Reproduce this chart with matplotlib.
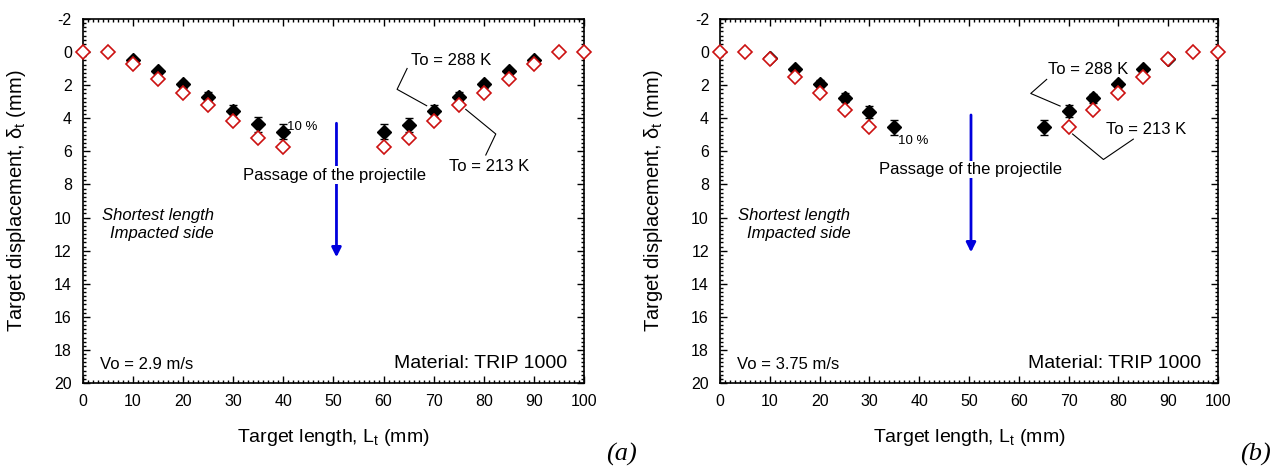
import matplotlib
matplotlib.use('Agg')
import matplotlib.pyplot as plt
from matplotlib.ticker import MultipleLocator

plt.rcParams['font.family'] = ['Liberation Sans', 'DejaVu Sans']
plt.rcParams['mathtext.fontset'] = 'custom'
plt.rcParams['mathtext.rm'] = 'Liberation Sans'
plt.rcParams['mathtext.it'] = 'Liberation Sans:italic'
plt.rcParams['axes.unicode_minus'] = False

# panel (a): Vo = 2.9 m/s
a_x_288 = [10, 15, 20, 25, 30, 35, 40, 60, 65, 70, 75, 80, 85, 90]
a_y_288 = [0.5, 1.15, 1.95, 2.7, 3.57, 4.37, 4.8, 4.8, 4.4, 3.57, 2.7, 1.95, 1.15, 0.5]
a_x_213 = [0, 5, 10, 15, 20, 25, 30, 35, 40, 60, 65, 70, 75, 80, 85, 90, 95, 100]
a_y_213 = [0, 0, 0.72, 1.63, 2.46, 3.2, 4.17, 5.2, 5.72, 5.72, 5.22, 4.17, 3.2, 2.46, 1.62, 0.72, 0, 0]

# panel (b): Vo = 3.75 m/s
b_x_288 = [10, 15, 20, 25, 30, 35, 65, 70, 75, 80, 85, 90]
b_y_288 = [0.33, 1.03, 1.9, 2.76, 3.6, 4.55, 4.55, 3.57, 2.8, 1.93, 1.03, 0.4]
b_x_213 = [0, 5, 10, 15, 20, 25, 30, 70, 75, 80, 85, 90, 95, 100]
b_y_213 = [0, 0, 0.44, 1.49, 2.5, 3.5, 4.5, 4.5, 3.5, 2.5, 1.49, 0.44, 0, 0]

err_frac = 0.10

panels = [
	dict(rect=[0.0645, 0.1781, 0.3896, 0.7811], x288=a_x_288, y288=a_y_288, x213=a_x_213, y213=a_y_213,
		vo='Vo = 2.9 m/s', tag='(a)', tag_x=0.483,
		pct=(40.8, 4.5), arrow=(50.6, 4.3, 12.4), passage=(50.3, 7.43),
		t288=(73.5, 0.52), l288=[(64.7, 0.99), (62.7, 2.25), (68.6, 3.24)],
		t213=(81.0, 6.93), l213=[(76.4, 3.46), (82.4, 4.95), (80.4, 6.22)]),
	dict(rect=[0.5599, 0.1781, 0.3872, 0.7811], x288=b_x_288, y288=b_y_288, x213=b_x_213, y213=b_y_213,
		vo='Vo = 3.75 m/s', tag='(b)', tag_x=0.976,
		pct=(35.7, 5.36), arrow=(50.4, 3.8, 12.1), passage=(50.3, 7.1),
		t288=(74.0, 1.03), l288=[(65.6, 1.65), (62.4, 2.5), (68.3, 3.26)],
		t213=(85.6, 4.67), l213=[(70.8, 4.95), (77.0, 6.49), (83.0, 5.26)]),
]

fig = plt.figure(figsize=(12.86, 4.66), dpi=100)

for p in panels:
	ax = fig.add_axes(p['rect'])
	ax.set_xlim(0, 100)
	ax.set_ylim(20, -2)
	ax.xaxis.set_major_locator(MultipleLocator(10))
	ax.xaxis.set_minor_locator(MultipleLocator(1))
	ax.yaxis.set_major_locator(MultipleLocator(2))
	ax.yaxis.set_minor_locator(MultipleLocator(0.25))
	ax.tick_params(which='both', direction='in', top=True, right=True, labelsize=11.5, width=1)
	ax.tick_params(which='major', length=5, pad=8)
	ax.tick_params(which='minor', length=2.5)
	for s in ax.spines.values():
		s.set_linewidth(1.2)

	ax.errorbar(p['x288'], p['y288'], yerr=[v * err_frac for v in p['y288']], fmt='D', color='black',
		ms=7.5, capsize=3, elinewidth=1, capthick=1, zorder=3, clip_on=False)
	ax.plot(p['x213'], p['y213'], 'D', ms=7, mfc='white', mec='#cc1111', mew=1.2, zorder=4, clip_on=False)

	ax.text(p['pct'][0], p['pct'][1], '10 %', fontsize=9.5, ha='left', va='center')

	ax.annotate('', xy=(p['arrow'][0], p['arrow'][2]), xytext=(p['arrow'][0], p['arrow'][1]),
		arrowprops=dict(arrowstyle='-|>', color='#0000dd', lw=2, mutation_scale=14, shrinkA=0, shrinkB=0), zorder=2)
	ax.text(p['passage'][0], p['passage'][1], 'Passage of the projectile', fontsize=12, ha='center', va='center',
		bbox=dict(facecolor='white', edgecolor='none', pad=1), zorder=5)

	ax.text(p['t288'][0], p['t288'][1], 'To = 288 K', fontsize=12, ha='center', va='center')
	ax.plot([q[0] for q in p['l288']], [q[1] for q in p['l288']], color='black', lw=0.8)
	ax.text(p['t213'][0], p['t213'][1], 'To = 213 K', fontsize=12, ha='center', va='center')
	ax.plot([q[0] for q in p['l213']], [q[1] for q in p['l213']], color='black', lw=0.8)

	ax.text(26.2, 9.85, 'Shortest length', fontsize=12, style='italic', ha='right', va='center')
	ax.text(26.2, 10.95, 'Impacted side', fontsize=12, style='italic', ha='right', va='center')
	ax.text(3.4, 18.9, p['vo'], fontsize=12, ha='left', va='center')
	ax.text(96.7, 18.8, 'Material: TRIP 1000', fontsize=14, ha='right', va='center')

	ax.set_xlabel(r'Target length, L$_\mathrm{t}$ (mm)', fontsize=14)
	ax.set_ylabel(r'Target displacement, $\mathrm{\delta}_\mathrm{t}$ (mm)', fontsize=14.5)
	ax.xaxis.set_label_coords(0.5, -0.12)
	ax.yaxis.set_label_coords(-0.11, 0.5)

	fig.text(p['tag_x'], 0.024, p['tag'], fontsize=19, family='Liberation Serif', style='italic', ha='center', va='center')

fig.savefig('out.png', dpi=100)
